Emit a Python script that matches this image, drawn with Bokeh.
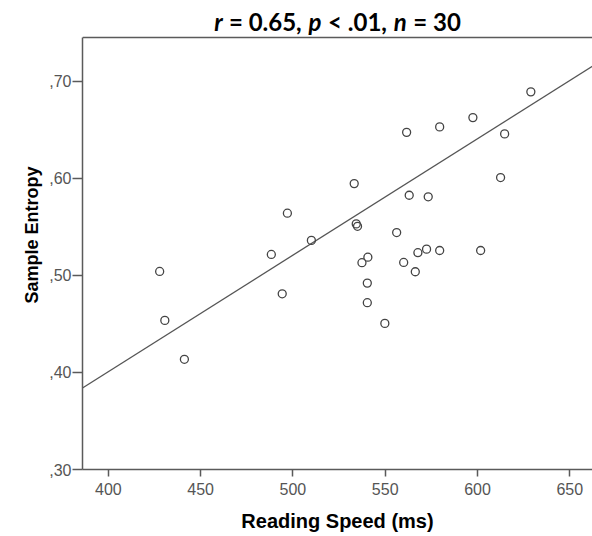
import numpy as np
from bokeh.plotting import figure
from bokeh.models import Range1d, FixedTicker, Span
from bokeh.core.properties import value
from bokeh.embed import file_html
from bokeh.resources import INLINE

# ---- data ----
reading_speed = [497.0, 510.0, 488.3, 427.8, 494.2, 430.6, 441.2,
                 533.2, 563.0, 573.3, 534.3, 535.0, 556.2, 540.6, 537.4,
                 567.7, 572.4, 579.5, 560.0, 566.3, 540.3, 540.3, 549.8,
                 628.9, 597.5, 614.7, 612.5, 601.7, 579.5, 561.6]
sample_entropy = [0.564, 0.536, 0.5215, 0.504, 0.481, 0.4536, 0.4135,
                  0.5945, 0.5825, 0.5809, 0.5530, 0.5505, 0.5441, 0.5187, 0.513,
                  0.5233, 0.527, 0.5256, 0.5133, 0.5037, 0.492, 0.4718, 0.4505,
                  0.689, 0.6625, 0.6457, 0.6007, 0.5256, 0.6529, 0.6473]

# fit line as drawn in the reference
fit_slope = 0.0012
fit_intercept = -0.0792

x_ticks = [400, 450, 500, 550, 600, 650]
y_ticks = [0.30, 0.40, 0.50, 0.60, 0.70]
y_tick_labels = [",30", ",40", ",50", ",60", ",70"]
x_lo, x_hi = 386.0, 662.3
y_lo, y_hi = 0.30, 0.745

title_pieces = [("r", "bold italic"), (" = 0.65, ", "bold"), ("p", "bold italic"),
                (" < .01, ", "bold"), ("n", "bold italic"), (" = 30", "bold")]

# ---- layout sizes (pixels) ----
W, H = 592, 536
ML, MB, MR = 82, 67, 0
TOP_GAP = 37            # space above the plotting box, used for the title
box_h = H - MB - TOP_GAP
units_per_px = (y_hi - y_lo) / box_h
y_canvas_top = y_hi + TOP_GAP * units_per_px
frame_w = W - ML - MR
xunits_per_px = (x_hi - x_lo) / frame_w

p = figure(width=W, height=H, output_backend="svg", toolbar_location=None,
           title=None, x_range=Range1d(x_lo, x_hi),
           y_range=Range1d(y_lo, y_canvas_top),
           min_border_left=ML, min_border_top=0, min_border_bottom=MB,
           min_border_right=MR)
p.outline_line_color = None
p.grid.visible = False

axis_col = "#5a5a5a"
tick_col = "#555555"

xa = p.xaxis[0]
xa.ticker = FixedTicker(ticks=x_ticks)
xa.axis_label = "Reading Speed (ms)"
xa.axis_label_text_font = "Liberation Sans"
xa.axis_label_text_font_style = "bold"
xa.axis_label_text_font_size = "20px"
xa.axis_label_text_color = "black"
xa.axis_label_standoff = 12
xa.major_label_text_font = "Liberation Sans"
xa.major_label_text_font_size = "16px"
xa.major_label_text_color = tick_col
xa.major_label_standoff = 6
xa.major_tick_out = 7
xa.major_tick_in = 0
xa.minor_tick_out = 0
xa.minor_tick_in = 0
xa.axis_line_color = axis_col
xa.axis_line_width = 1.5
xa.major_tick_line_color = axis_col
xa.major_tick_line_width = 1.5

ya = p.yaxis[0]
ya.ticker = FixedTicker(ticks=y_ticks)
ya.bounds = (y_lo, y_hi)
ya.major_label_overrides = {t: l for t, l in zip(y_ticks, y_tick_labels)}
ya.axis_label = "Sample Entropy"
ya.axis_label_text_font = "Liberation Sans"
ya.axis_label_text_font_style = "bold"
ya.axis_label_text_font_size = "18px"
ya.axis_label_text_color = "black"
ya.axis_label_standoff = 4
ya.major_label_text_font = "Liberation Sans"
ya.major_label_text_font_size = "16px"
ya.major_label_text_color = tick_col
ya.major_label_standoff = 1
ya.major_tick_out = 10
ya.major_tick_in = 0
ya.minor_tick_out = 0
ya.minor_tick_in = 0
ya.axis_line_color = axis_col
ya.axis_line_width = 1.5
ya.major_tick_line_color = axis_col
ya.major_tick_line_width = 1.5

# top border of the plotting box
p.add_layout(Span(location=y_hi, dimension="width", line_color=axis_col,
                  line_width=1.5))

line_x = [x_lo, x_hi]
line_y = [fit_intercept + fit_slope * v for v in line_x]
p.line(line_x, line_y, line_color="#555555", line_width=1.3)

p.scatter(reading_speed, sample_entropy, marker="circle", size=8,
          fill_color=None, line_color="#444444", line_width=1.3)

# title with italic statistics letters
cw = {'0': .58, '1': .58, '3': .58, '5': .58, '6': .58, ' ': .24, '=': .58,
      '<': .58, ',': .26, '.': .26, 'r': .37, 'p': .57, 'n': .57}
fs = 24
total = sum(cw[c] for t, _ in title_pieces for c in t) * fs
cur = frame_w / 2 - total / 2
title_y = y_hi + 16 * units_per_px
for t, style in title_pieces:
    lead = len(t) - len(t.lstrip())
    xx = cur + sum(cw[c] for c in t[:lead]) * fs
    p.text(x=[x_lo + xx * xunits_per_px], y=[title_y], text=[t.strip()],
           text_font=value("Lato"), text_font_style=style,
           text_font_size=value(f"{fs}px"), text_color="black",
           text_baseline="alphabetic", text_align="left")
    cur += sum(cw[c] for c in t) * fs

open("out.html", "w").write(file_html(p, INLINE))
